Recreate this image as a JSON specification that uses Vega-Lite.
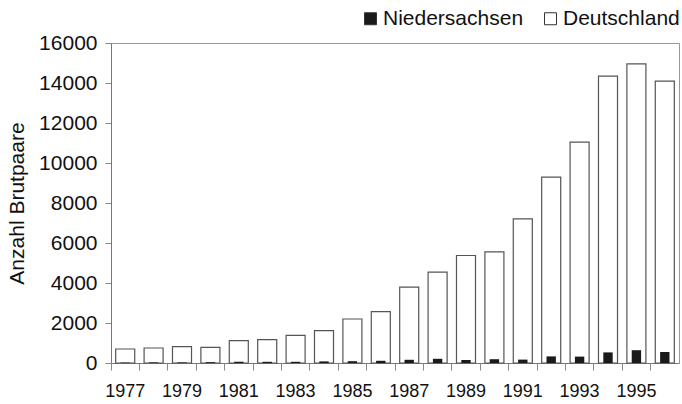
{
  "$schema": "https://vega.github.io/schema/vega-lite/v6.json",
  "autosize": "none",
  "width": 568,
  "height": 320,
  "padding": {"left": 111, "top": 43, "right": 3, "bottom": 41},
  "background": "white",
  "config": {
    "view": {"stroke": "#999", "strokeWidth": 1},
    "font": "Liberation Sans",
    "legend": {
      "symbolStrokeColor": "#333",
      "symbolStrokeWidth": 1,
      "symbolType": "square",
      "symbolSize": 144,
      "labelFontSize": 21,
      "labelFont": "Liberation Sans",
      "labelColor": "#111",
      "labelOffset": 2,
      "columnPadding": 16,
      "padding": 0
    }
  },
  "data": {
    "values": [
      {"year": 1977, "region": "Deutschland", "value": 700},
      {"year": 1978, "region": "Deutschland", "value": 750},
      {"year": 1979, "region": "Deutschland", "value": 815},
      {"year": 1980, "region": "Deutschland", "value": 780},
      {"year": 1981, "region": "Deutschland", "value": 1115},
      {"year": 1982, "region": "Deutschland", "value": 1165},
      {"year": 1983, "region": "Deutschland", "value": 1380},
      {"year": 1984, "region": "Deutschland", "value": 1615},
      {"year": 1985, "region": "Deutschland", "value": 2200},
      {"year": 1986, "region": "Deutschland", "value": 2570},
      {"year": 1987, "region": "Deutschland", "value": 3790},
      {"year": 1988, "region": "Deutschland", "value": 4540},
      {"year": 1989, "region": "Deutschland", "value": 5375},
      {"year": 1990, "region": "Deutschland", "value": 5560},
      {"year": 1991, "region": "Deutschland", "value": 7210},
      {"year": 1992, "region": "Deutschland", "value": 9290},
      {"year": 1993, "region": "Deutschland", "value": 11040},
      {"year": 1994, "region": "Deutschland", "value": 14340},
      {"year": 1995, "region": "Deutschland", "value": 14960},
      {"year": 1996, "region": "Deutschland", "value": 14090},
      {"year": 1977, "region": "Niedersachsen", "value": 20},
      {"year": 1978, "region": "Niedersachsen", "value": 30},
      {"year": 1979, "region": "Niedersachsen", "value": 30},
      {"year": 1980, "region": "Niedersachsen", "value": 40},
      {"year": 1981, "region": "Niedersachsen", "value": 60},
      {"year": 1982, "region": "Niedersachsen", "value": 60},
      {"year": 1983, "region": "Niedersachsen", "value": 60},
      {"year": 1984, "region": "Niedersachsen", "value": 80},
      {"year": 1985, "region": "Niedersachsen", "value": 90},
      {"year": 1986, "region": "Niedersachsen", "value": 110},
      {"year": 1987, "region": "Niedersachsen", "value": 160},
      {"year": 1988, "region": "Niedersachsen", "value": 210},
      {"year": 1989, "region": "Niedersachsen", "value": 150},
      {"year": 1990, "region": "Niedersachsen", "value": 190},
      {"year": 1991, "region": "Niedersachsen", "value": 170},
      {"year": 1992, "region": "Niedersachsen", "value": 330},
      {"year": 1993, "region": "Niedersachsen", "value": 320},
      {"year": 1994, "region": "Niedersachsen", "value": 530},
      {"year": 1995, "region": "Niedersachsen", "value": 640},
      {"year": 1996, "region": "Niedersachsen", "value": 550}
    ]
  },
  "encoding": {
    "x": {
      "field": "year",
      "type": "ordinal",
      "scale": {"paddingInner": 0, "paddingOuter": 0},
      "axis": {
        "title": null,
        "bandPosition": 0,
        "labelDx": 14.2,
        "labelAngle": 0,
        "labelFont": "Liberation Sans",
        "labelFontSize": 18,
        "labelColor": "#111",
        "labelPadding": 12,
        "labelOverlap": false,
        "labelExpr": "datum.value % 2 == 1 ? datum.label : ''",
        "tickColor": "#888",
        "tickSize": 7,
        "domainColor": "#777"
      }
    },
    "y": {
      "field": "value",
      "type": "quantitative",
      "scale": {"domain": [0, 16000], "nice": false},
      "axis": {
        "values": [0, 2000, 4000, 6000, 8000, 10000, 12000, 14000, 16000],
        "format": "d",
        "grid": false,
        "labelFont": "Liberation Sans",
        "labelFontSize": 21,
        "labelColor": "#111",
        "labelPadding": 8,
        "tickSize": 6,
        "tickColor": "#888",
        "domainColor": "#777",
        "title": "Anzahl Brutpaare",
        "titleFont": "Liberation Sans",
        "titleFontSize": 21,
        "titleFontWeight": "normal",
        "titleColor": "#111",
        "titlePadding": 11
      }
    },
    "fill": {
      "field": "region",
      "type": "nominal",
      "scale": {"domain": ["Niedersachsen", "Deutschland"], "range": ["#1a1a1a", "#ffffff"]},
      "legend": {"title": null, "orient": "none", "direction": "horizontal", "legendX": 249, "legendY": -35}
    }
  },
  "layer": [
    {
      "transform": [{"filter": "datum.region == 'Deutschland'"}],
      "mark": {"type": "bar", "width": {"band": 0.67}, "stroke": "#555", "strokeWidth": 1.2}
    },
    {
      "transform": [{"filter": "datum.region == 'Niedersachsen'"}],
      "mark": {"type": "bar", "width": {"band": 0.33}}
    }
  ]
}
